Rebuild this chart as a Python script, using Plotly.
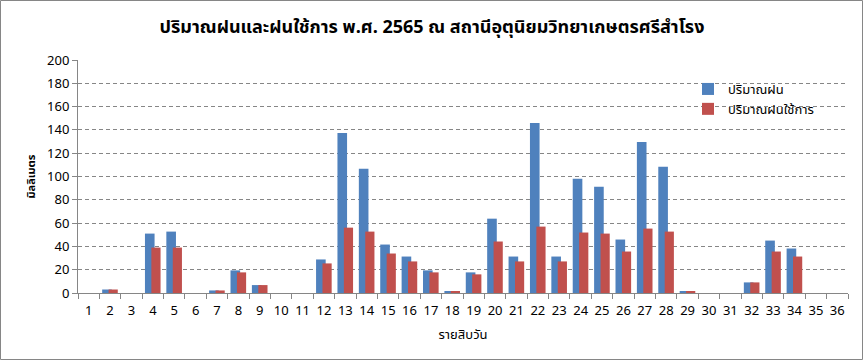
import plotly.graph_objects as go

categories = [str(i) for i in range(1, 37)]
rain = [0, 3, 0, 51, 52.7, 0, 2.2, 19.4, 6.8, 0, 0, 28.8, 137.3, 106.6, 41.6, 31.3, 19.4, 1.1,
        17.7, 63.8, 31.3, 145.9, 31.3, 98, 91.2, 45.9, 129.6, 108.3, 1.1, 0, 0, 9.1, 45, 38.2, 0, 0]
effective_rain = [0, 3, 0, 39, 39, 0, 2.2, 17.7, 6.8, 0, 0, 25.4, 56.1, 52.7, 33.9, 27.1, 17.7, 1.1,
                  16, 44.2, 27.1, 57, 27.1, 51.9, 51, 35.6, 55.3, 52.7, 1.1, 0, 0, 9.1, 35.6, 31.3, 0, 0]
y_ticks = [0, 20, 40, 60, 80, 100, 120, 140, 160, 180, 200]

title_text = "ปริมาณฝนและฝนใช้การ พ.ศ. 2565 ณ สถานีอุตุนิยมวิทยาเกษตรศรีสำโรง"
series_names = ["ปริมาณฝน", "ปริมาณฝนใช้การ"]
x_title = "รายสิบวัน"
y_title = "มิลลิเมตร"

FONT = "Tahoma, 'Noto Sans Thai', 'DejaVu Sans', sans-serif"
W, H = 864, 361
ML, MR, MT, MB = 78, 16, 60, 68

fig = go.Figure()
fig.add_trace(go.Bar(x=categories, y=rain, name=series_names[0], marker_color="#4F81BD",
                     width=0.45, offset=-0.37, marker_line_width=0, legendgroup="a"))
fig.add_trace(go.Bar(x=categories, y=effective_rain, name=series_names[1], marker_color="#C0504D",
                     width=0.43, offset=-0.07, marker_line_width=0, legendgroup="b"))

pw = W - ML - MR
ph = H - MT - MB
fig.update_layout(
    width=W, height=H,
    margin=dict(l=ML, r=MR, t=MT, b=MB),
    barmode="overlay",
    paper_bgcolor="white", plot_bgcolor="white",
    font=dict(family=FONT, size=13, color="black"),
    title=dict(text="<b>" + title_text + "</b>", x=0.5, xanchor="center", y=1 - 27 / H,
               yanchor="middle", font=dict(family=FONT, size=18, color="black")),
    legend=dict(x=(688 - ML) / pw, y=1 - (74 - MT) / ph, xanchor="left", yanchor="top",
                bgcolor="rgba(0,0,0,0)", font=dict(size=13), tracegroupgap=0,
                itemwidth=30),
    showlegend=True,
)
fig.update_xaxes(type="category", range=[-0.5, 35.5], showline=True, linecolor="#868686",
                 linewidth=1, ticks="outside", tickson="boundaries", ticklen=5,
                 tickcolor="#868686", showgrid=False, tickangle=0, ticklabelstandoff=5,
                 title=dict(text=x_title, font=dict(size=13), standoff=10),
                 tickfont=dict(size=13))
fig.update_yaxes(range=[0, 200], tickvals=y_ticks, showline=True, linecolor="#868686",
                 linewidth=1, ticks="outside", ticklen=5, tickcolor="#868686",
                 showgrid=True, gridcolor="#868686", griddash="4px,3px", gridwidth=1,
                 zeroline=False,
                 title=dict(text="<b>" + y_title + "</b>", font=dict(size=11), standoff=9),
                 tickfont=dict(size=13))
# white patch behind legend (hides gridlines like the original)
fig.add_shape(type="rect", xref="x", yref="y", x0=27.8, x1=36, y0=152, y1=196,
              fillcolor="white", line_width=0, layer="below")
# chart border
fig.add_shape(type="rect", xref="paper", yref="paper",
              x0=-(ML - 0.5) / pw, x1=1 + (MR - 1.5) / pw,
              y0=-(MB - 1.5) / ph, y1=1 + (MT - 0.5) / ph,
              line=dict(color="#868686", width=1), fillcolor="rgba(0,0,0,0)", layer="above")

fig.write_html("out.html", config={"displayModeBar": False},
               post_script="document.body.style.margin='0';")
